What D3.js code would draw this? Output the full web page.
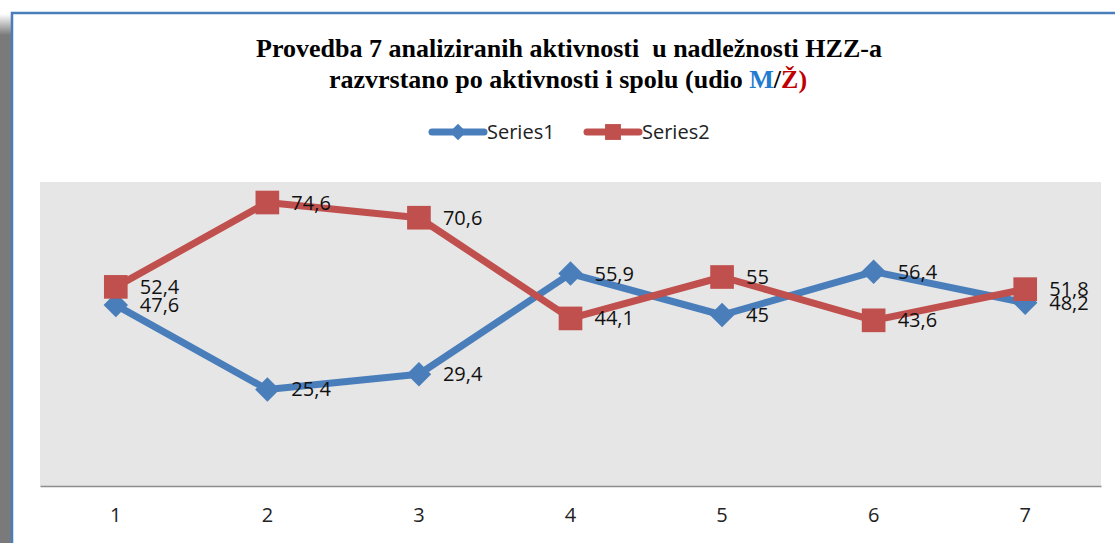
<!DOCTYPE html>
<html>
<head>
<meta charset="utf-8">
<script src="https://cdn.jsdelivr.net/npm/d3@7"></script>
<style>
  body { margin: 0; background: #fff; }
  svg { display: block; }
</style>
</head>
<body>
<div id="chart"></div>
<script>
// data
var categories = ["1", "2", "3", "4", "5", "6", "7"];
var series1 = [47.6, 25.4, 29.4, 55.9, 45, 56.4, 48.2];
var series2 = [52.4, 74.6, 70.6, 44.1, 55, 43.6, 51.8];
var seriesNames = ["Series1", "Series2"];
var yDomain = [0, 80];

var width = 1115, height = 543;
var plot = {left: 40, right: 1101, top: 182, bottom: 486};
var blue = "#4a7ebb", red = "#c0504d";

var svg = d3.select("#chart").append("svg")
    .attr("width", width)
    .attr("height", height);

// shadow on the left edge + frame
var defs = svg.append("defs");
var grad = defs.append("linearGradient").attr("id", "shade")
    .attr("x1", 0).attr("y1", 0).attr("x2", 0).attr("y2", 1);
grad.append("stop").attr("offset", "0").attr("stop-color", "#fff");
grad.append("stop").attr("offset", "0.04").attr("stop-color", "#7a7a7a");
grad.append("stop").attr("offset", "1").attr("stop-color", "#7a7a7a");
svg.append("rect")
    .attr("x", 0).attr("y", 14)
    .attr("width", 12).attr("height", height - 14)
    .attr("fill", "url(#shade)");
svg.append("rect")
    .attr("x", 12).attr("y", 13)
    .attr("width", width).attr("height", height)
    .attr("fill", "#fff")
    .attr("stroke", blue)
    .attr("stroke-width", 2.5);

// title
var title = svg.append("text")
    .attr("text-anchor", "middle")
    .style("font-family", "'Liberation Serif', 'Times New Roman', serif")
    .style("font-weight", "bold")
    .style("font-size", "26px")
    .style("white-space", "pre")
    .attr("fill", "#000");
title.append("tspan").attr("x", 569).attr("y", 57)
    .text("Provedba 7 analiziranih aktivnosti  u nadležnosti HZZ-a");
var t2 = title.append("tspan").attr("x", 568).attr("y", 88);
t2.append("tspan").text("razvrstano po aktivnosti i spolu (udio ");
t2.append("tspan").attr("fill", "#1f7cd0").text("M");
t2.append("tspan").text("/");
t2.append("tspan").attr("fill", "#c00000").text("Ž)");

// scales
var x = d3.scaleBand()
    .domain(categories)
    .range([plot.left, plot.right]);
var y = d3.scaleLinear()
    .domain(yDomain)
    .range([plot.bottom, plot.top]);

svg.append("rect")
    .attr("x", plot.left).attr("y", plot.top)
    .attr("width", plot.right - plot.left)
    .attr("height", plot.bottom - plot.top)
    .attr("fill", "#e6e6e6");

// x axis
var xAxis = d3.axisBottom(x).tickSize(0).tickPadding(22);
var gx = svg.append("g")
    .attr("transform", "translate(0," + plot.bottom + ")")
    .call(xAxis);
gx.select(".domain").attr("stroke", "#8c8c8c").attr("stroke-width", 1.5);
gx.selectAll("text")
    .style("font-family", "'Open Sans', 'Noto Sans', sans-serif")
    .style("font-size", "20px")
    .attr("fill", "#222");

var cx = function(i) { return x(categories[i]) + x.bandwidth() / 2; };

var line = d3.line()
    .x(function(d, i) { return cx(i); })
    .y(function(d) { return y(d); });

// diamond = square turned 45 degrees
var allSeries = [
    {name: seriesNames[0], values: series1, color: blue, size: 300, rot: 45},
    {name: seriesNames[1], values: series2, color: red, size: 560, rot: 0}
];

allSeries.forEach(function(s) {
    svg.append("path")
        .datum(s.values)
        .attr("d", line)
        .attr("fill", "none")
        .attr("stroke", s.color)
        .attr("stroke-width", 7)
        .attr("stroke-linejoin", "round");
});

allSeries.forEach(function(s) {
    svg.selectAll(null).data(s.values).enter()
        .append("path")
        .attr("d", d3.symbol().type(d3.symbolSquare).size(s.size))
        .attr("transform", function(d, i) {
            return "translate(" + cx(i) + "," + y(d) + ") rotate(" + s.rot + ")";
        })
        .attr("fill", s.color);
});

// data labels
allSeries.forEach(function(s) {
    svg.selectAll(null).data(s.values).enter()
        .append("text")
        .attr("x", function(d, i) { return cx(i) + 24; })
        .attr("y", function(d) { return y(d); })
        .attr("dy", "0.35em")
        .style("font-family", "'Open Sans', 'Noto Sans', sans-serif")
        .style("font-size", "20px")
        .attr("fill", "#111")
        .text(function(d) { return String(d).replace(".", ","); });
});

// legend
var legendX = [430, 585];
allSeries.forEach(function(s, i) {
    var g = svg.append("g").attr("transform", "translate(" + legendX[i] + ",132)");
    g.append("line")
        .attr("x1", 2).attr("x2", 54)
        .attr("stroke", s.color)
        .attr("stroke-width", 7)
        .attr("stroke-linecap", "round");
    g.append("path")
        .attr("d", d3.symbol().type(d3.symbolSquare).size(s.size * 0.45))
        .attr("transform", "translate(28,0) rotate(" + s.rot + ")")
        .attr("fill", s.color);
    g.append("text")
        .attr("x", 57).attr("dy", "0.35em")
        .style("font-family", "'Open Sans', 'Noto Sans', sans-serif")
        .style("font-size", "20px")
        .attr("fill", "#222")
        .text(s.name);
});
</script>
</body>
</html>
